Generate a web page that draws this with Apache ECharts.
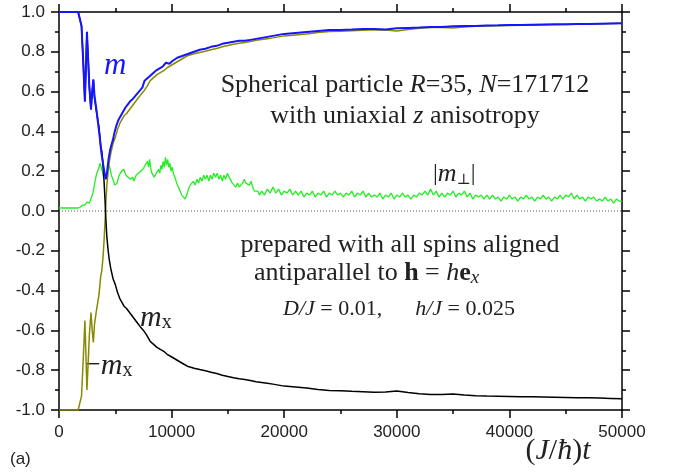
<!DOCTYPE html>
<html><head><meta charset="utf-8">
<script src="https://cdn.jsdelivr.net/npm/echarts@6/dist/echarts.min.js"></script>
<style>html,body{margin:0;padding:0;background:#fff}#c{width:674px;height:472px}</style>
</head><body><div id="c"></div>
<script>
// ---- data ----
const xTicks = [0, 10000, 20000, 30000, 40000, 50000];
const yTicks = [-1.0, -0.8, -0.6, -0.4, -0.2, 0.0, 0.2, 0.4, 0.6, 0.8, 1.0];

// |m| (blue)
const tM = [0,1700,1850,2000,2150,2300,2380,2480,2560,2700,2840,2950,3050,3150,3300,3450,3600,3750,3900,4050,4170,4280,4400,4550,4700,4800,4950,5100,5300,5500,5700,5900,6100,6300,6500,6800,7100,7400,7600,7800,8000,8300,8600,8900,9200,9500,9800,10100,10500,11000,11500,12000,12500,13000,13500,14000,14500,15000,15500,16000,16500,17000,17500,18000,18500,19000,19500,20000,21000,22000,23000,24000,25000,26000,27000,28000,29000,30000,31000,32000,33000,34000,35000,36000,37000,38000,39000,40000,41000,42000,43000,44000,45000,46000,47000,48000,49000,50000];
const m  = [1.0,1.0,0.99,0.93,0.75,0.55,0.70,0.90,0.80,0.62,0.51,0.60,0.66,0.58,0.52,0.45,0.38,0.30,0.24,0.19,0.16,0.20,0.26,0.31,0.34,0.36,0.40,0.43,0.46,0.48,0.50,0.52,0.535,0.55,0.56,0.58,0.60,0.62,0.655,0.665,0.675,0.69,0.705,0.715,0.725,0.745,0.74,0.755,0.77,0.78,0.79,0.80,0.81,0.815,0.825,0.83,0.84,0.845,0.85,0.855,0.855,0.86,0.865,0.87,0.875,0.88,0.885,0.89,0.895,0.90,0.905,0.91,0.91,0.912,0.915,0.915,0.912,0.918,0.92,0.922,0.925,0.925,0.928,0.93,0.93,0.932,0.933,0.935,0.935,0.936,0.937,0.938,0.939,0.94,0.94,0.941,0.942,0.943];

// m_x (black); -m_x (olive) is its mirror
const tMx = [0,1700,1850,2000,2150,2300,2380,2480,2560,2700,2840,2950,3050,3150,3300,3400,3550,3700,3800,3900,4000,4100,4170,4250,4350,4450,4600,4800,5000,5200,5400,5600,5800,6000,6200,6400,6600,6800,7000,7200,7500,7800,8100,8400,8700,9000,9300,9600,9900,10200,10500,10800,11100,11400,11700,12000,12500,13000,13500,14000,14500,15000,15500,16000,16500,17000,17500,18000,18500,19000,19500,20000,21000,22000,23000,24000,25000,26000,27000,28000,29000,30000,31000,32000,33000,34000,35000,36000,37000,38000,39000,40000,41000,42000,43000,44000,45000,46000,47000,48000,49000,50000];
const mx  = [1.0,1.0,0.99,0.93,0.75,0.55,0.70,0.90,0.80,0.62,0.51,0.60,0.66,0.57,0.51,0.50,0.42,0.33,0.30,0.24,0.15,0.04,-0.05,-0.13,-0.19,-0.24,-0.29,-0.34,-0.37,-0.41,-0.44,-0.46,-0.48,-0.49,-0.505,-0.52,-0.535,-0.55,-0.565,-0.58,-0.60,-0.625,-0.655,-0.67,-0.685,-0.695,-0.705,-0.72,-0.73,-0.74,-0.75,-0.76,-0.77,-0.78,-0.785,-0.79,-0.797,-0.803,-0.81,-0.817,-0.825,-0.832,-0.838,-0.843,-0.847,-0.852,-0.858,-0.862,-0.866,-0.87,-0.875,-0.88,-0.885,-0.89,-0.897,-0.902,-0.903,-0.906,-0.908,-0.911,-0.91,-0.905,-0.912,-0.918,-0.922,-0.922,-0.92,-0.925,-0.928,-0.93,-0.931,-0.932,-0.933,-0.934,-0.935,-0.936,-0.937,-0.938,-0.939,-0.94,-0.942,-0.944];

// |m_perp| (green): early part
const tPerp = [0,1700,1900,2100,2300,2500,2700,2900,3050,3200,3350,3500,3650,3750,3850,3950,4050,4150,4250,4350,4450,4550,4650,4750,4850,4950,5050,5150,5250,5350,5450,5550,5650,5750,5850,5950,6050,6150,6250,6350,6450,6550,6650,6750,6850,6950,7050,7150,7250,7350,7450,7550,7650,7750,7850,7950,8050,8150,8250,8350,8450,8550,8650,8750,8850,8950,9050,9150,9250,9350,9450,9550,9650,9750,9850,9950,10050,10150,10300,10450,10600,10750,10900,11050,11200,11350,11500,11650,11800,11950,12100,12250,12400,12550,12700,12850,13000,13150,13300,13450,13600,13750,13900,14050,14200,14350,14500,14650,14800,14950,15100,15250,15400,15550,15700,15850,16000,16150,16300,16450,16600,16750,16900,17050,17200,17350,17500,17650,17800];
const perp  = [0.015,0.015,0.02,0.03,0.03,0.045,0.04,0.07,0.10,0.15,0.19,0.21,0.24,0.23,0.20,0.17,0.19,0.16,0.19,0.20,0.23,0.21,0.18,0.17,0.15,0.13,0.12,0.14,0.16,0.18,0.17,0.20,0.19,0.21,0.20,0.18,0.19,0.17,0.18,0.16,0.15,0.17,0.15,0.16,0.18,0.17,0.19,0.18,0.20,0.19,0.21,0.20,0.23,0.22,0.25,0.22,0.26,0.21,0.19,0.20,0.17,0.16,0.19,0.18,0.21,0.19,0.23,0.21,0.25,0.22,0.27,0.23,0.26,0.22,0.24,0.20,0.22,0.19,0.17,0.14,0.12,0.10,0.08,0.07,0.06,0.08,0.11,0.13,0.12,0.15,0.13,0.16,0.14,0.17,0.15,0.18,0.16,0.18,0.15,0.18,0.16,0.19,0.17,0.19,0.16,0.18,0.15,0.18,0.16,0.19,0.17,0.16,0.14,0.15,0.12,0.14,0.12,0.13,0.14,0.16,0.14,0.15,0.13,0.15,0.12,0.10,0.09,0.10,0.08];
// |m_perp| late part, sampled every 250 from 18000 to 50000
const tPerpLateStart = 18000, tPerpLateStep = 250;
const perpLate = [0.10,0.08,0.11,0.09,0.12,0.09,0.11,0.08,0.10,
  0.09,0.11,0.08,0.10,0.08,0.10,0.07,0.09,
  0.08,0.10,0.07,0.09,0.08,0.10,0.07,0.09,
  0.08,0.10,0.08,0.09,0.07,0.09,0.08,0.10,
  0.07,0.09,0.08,0.10,0.07,0.09,0.07,0.08,
  0.07,0.09,0.06,0.08,0.07,0.09,0.06,0.08,
  0.07,0.09,0.07,0.08,0.06,0.08,0.07,0.09,
  0.08,0.10,0.08,0.11,0.08,0.10,0.07,0.09,
  0.07,0.09,0.08,0.10,0.07,0.09,0.08,0.10,
  0.07,0.09,0.06,0.08,0.07,0.08,0.06,0.08,
  0.06,0.08,0.06,0.07,0.05,0.07,0.06,0.08,
  0.06,0.07,0.05,0.07,0.06,0.08,0.06,0.07,
  0.05,0.07,0.06,0.08,0.06,0.07,0.05,0.07,
  0.06,0.08,0.06,0.08,0.07,0.09,0.06,0.08,
  0.06,0.07,0.05,0.07,0.06,0.07,0.05,0.06,
  0.05,0.07,0.05,0.06,0.04,0.06,0.05,0.05];

const pairs = (ts, vs) => ts.map((t, i) => [t, vs[i]]);
const negMx = mx.map(v => -v);
const perpData = pairs(tPerp, perp).concat(perpLate.map((v, i) => [tPerpLateStart + tPerpLateStep * i, v]));

const chart = echarts.init(document.getElementById('c'), null, {renderer: 'canvas'});
const axisLine = {show: true, onZero: false, lineStyle: {color: '#000', width: 1.5}};
const tickCommon = {show: true, inside: false, length: 8, lineStyle: {color: '#000', width: 1.5}};
const minorCommon = {show: true, splitNumber: 2, length: 4, lineStyle: {color: '#000', width: 1.5}};
const lblFont = {fontFamily: 'Liberation Sans, Arial, sans-serif', fontSize: 17, color: '#222'};
const serif = 'Liberation Serif, Times New Roman, serif';
const txt = '#222';

chart.setOption({
  animation: false,
  backgroundColor: '#fff',
  grid: {left: 59, right: 52, top: 12, bottom: 62, containLabel: false},
  xAxis: [
    {type: 'value', min: 0, max: 50000, interval: 10000, position: 'bottom',
     axisLine, axisTick: tickCommon, minorTick: minorCommon, splitLine: {show: false},
     axisLabel: Object.assign({margin: 14, formatter: v => String(v)}, lblFont)},
    {type: 'value', min: 0, max: 50000, interval: 10000, position: 'top',
     axisLine, axisTick: tickCommon, minorTick: minorCommon, splitLine: {show: false},
     axisLabel: {show: false}}
  ],
  yAxis: [
    {type: 'value', min: -1, max: 1, interval: 0.2, position: 'left',
     axisLine, axisTick: tickCommon, minorTick: minorCommon, splitLine: {show: false},
     axisLabel: Object.assign({margin: 14, formatter: v => v.toFixed(1)}, lblFont)},
    {type: 'value', min: -1, max: 1, interval: 0.2, position: 'right',
     axisLine, axisTick: tickCommon, minorTick: minorCommon, splitLine: {show: false},
     axisLabel: {show: false}}
  ],
  series: [
    {name: 'zero', type: 'line', data: [[0, 0], [50000, 0]], symbol: 'none', silent: true,
     lineStyle: {color: '#555', width: 1, type: [1, 2]}},
    {name: '|m_perp|', type: 'line', data: perpData, symbol: 'none',
     lineStyle: {color: '#22ee22', width: 1.3}},
    {name: '-m_x', type: 'line', data: pairs(tMx, negMx), symbol: 'none',
     lineStyle: {color: '#8a8a00', width: 1.5}},
    {name: 'm_x', type: 'line', data: pairs(tMx, mx), symbol: 'none',
     lineStyle: {color: '#000', width: 1.5}},
    {name: 'm', type: 'line', data: pairs(tM, m), symbol: 'none',
     lineStyle: {color: '#1515ff', width: 2}}
  ],
  graphic: [
    {type: 'text', style: {x: 405, y: 85, textAlign: 'center', textVerticalAlign: 'middle',
      text: 'Spherical particle {i|R}=35, {i|N}=171712', font: '26px ' + serif, fill: txt,
      rich: {i: {fontStyle: 'italic', fontFamily: serif, fontSize: 26, fill: txt}}}},
    {type: 'text', style: {x: 405, y: 116, textAlign: 'center', textVerticalAlign: 'middle',
      text: 'with uniaxial {i|z} anisotropy', font: '26px ' + serif, fill: txt,
      rich: {i: {fontStyle: 'italic', fontFamily: serif, fontSize: 26, fill: txt}}}},
    {type: 'text', style: {x: 400, y: 245, textAlign: 'center', textVerticalAlign: 'middle',
      text: 'prepared with all spins aligned', font: '26px ' + serif, fill: txt}},
    {type: 'text', style: {x: 254, y: 273, textAlign: 'left', textVerticalAlign: 'middle',
      text: 'antiparallel to {b|h} = {i|h}{b|e}{s|x}', font: '26px ' + serif, fill: txt,
      rich: {b: {fontWeight: 'bold', fontFamily: serif, fontSize: 26, fill: txt},
             i: {fontStyle: 'italic', fontFamily: serif, fontSize: 26, fill: txt},
             s: {fontStyle: 'italic', fontFamily: serif, fontSize: 19, fill: txt, padding: [10, 0, 0, 0]}}}},
    {type: 'text', style: {x: 283, y: 309, textAlign: 'left', textVerticalAlign: 'middle',
      text: '{i|D/J} = 0.01,      {i|h/J} = 0.025', font: '22px ' + serif, fill: txt,
      rich: {i: {fontStyle: 'italic', fontFamily: serif, fontSize: 22, fill: txt}}}},
    {type: 'text', style: {x: 433, y: 174, textAlign: 'left', textVerticalAlign: 'middle',
      text: '|{i|m}{s|⊥}|', font: '24px ' + serif, fill: txt,
      rich: {i: {fontStyle: 'italic', fontFamily: serif, fontSize: 26, fill: txt},
             s: {fontFamily: 'DejaVu Serif, serif', fontSize: 15, fill: txt, padding: [12, 0, 0, 0]}}}},
    {type: 'text', style: {x: 104, y: 66, textAlign: 'left', textVerticalAlign: 'middle',
      text: 'm', font: 'italic 31px ' + serif, fill: '#1515ff'}},
    {type: 'text', style: {x: 140, y: 318, textAlign: 'left', textVerticalAlign: 'middle',
      text: '{i|m}{s|x}', font: '28px ' + serif, fill: txt,
      rich: {i: {fontStyle: 'italic', fontFamily: serif, fontSize: 30, fill: txt},
             s: {fontFamily: serif, fontSize: 20, fill: txt, padding: [10, 0, 0, 0]}}}},
    {type: 'text', style: {x: 85, y: 366, textAlign: 'left', textVerticalAlign: 'middle',
      text: '−{i|m}{s|x}', font: '28px ' + serif, fill: txt,
      rich: {i: {fontStyle: 'italic', fontFamily: serif, fontSize: 30, fill: txt},
             s: {fontFamily: serif, fontSize: 20, fill: txt, padding: [10, 0, 0, 0]}}}},
    {type: 'text', style: {x: 558, y: 451, textAlign: 'center', textVerticalAlign: 'middle',
      text: '({i|J}/{i|ħ}){i|t}', font: '30px ' + serif, fill: txt,
      rich: {i: {fontStyle: 'italic', fontFamily: serif, fontSize: 30, fill: txt}}}},
    {type: 'text', style: {x: 10, y: 459, textAlign: 'left', textVerticalAlign: 'middle',
      text: '(a)', font: '17px Liberation Sans, Arial, sans-serif', fill: txt}}
  ]
});
</script></body></html>
